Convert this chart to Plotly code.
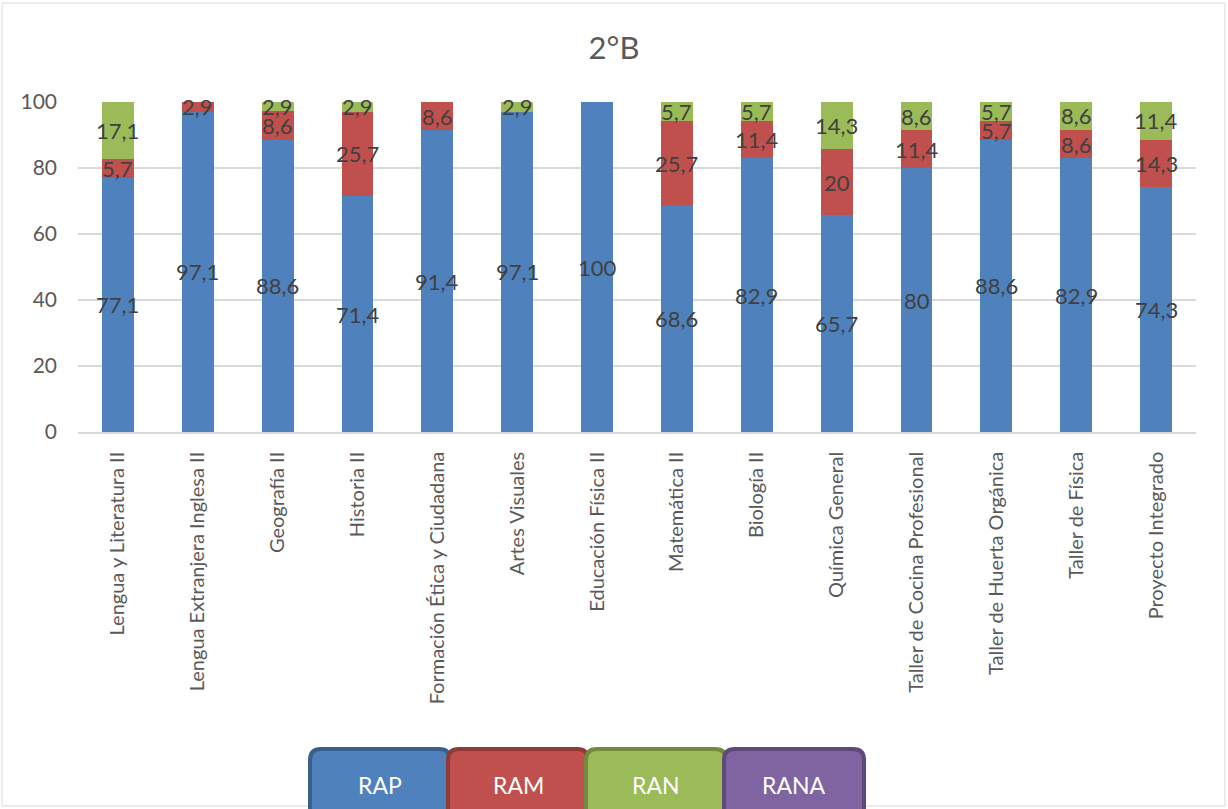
import plotly.graph_objects as go

categories = ["Lengua y Literatura II", "Lengua Extranjera Inglesa II", "Geografía II",
              "Historia II", "Formación Ética y Ciudadana", "Artes Visuales",
              "Educación Física II", "Matemática II", "Biología II", "Química General",
              "Taller de Cocina Profesional", "Taller de Huerta Orgánica",
              "Taller de Física", "Proyecto Integrado"]
rap = [77.1, 97.1, 88.6, 71.4, 91.4, 97.1, 100, 68.6, 82.9, 65.7, 80, 88.6, 82.9, 74.3]
ram = [5.7, 2.9, 8.6, 25.7, 8.6, 0, 0, 25.7, 11.4, 20, 11.4, 5.7, 8.6, 14.3]
ran = [17.1, 0, 2.9, 2.9, 0, 2.9, 0, 5.7, 5.7, 14.3, 8.6, 5.7, 8.6, 11.4]
rana = [0] * 14
series_names = ["RAP", "RAM", "RAN", "RANA"]
yticks = [0, 20, 40, 60, 80, 100]
title_text = "2°B"

colors = ["#4F81BD", "#C0504D", "#9BBB59", "#8064A2"]
borders = ["#3A5F8C", "#8E3A38", "#72893F", "#5E4A78"]
FONT = "Lato"

W, H = 1228, 809
L, R, T, B = 78, 32, 102, 377
pw, ph = W - L - R, H - T - B


def px2paper(x, y):
    return (x - L) / pw, (H - B - y) / ph


fig = go.Figure()
all_series = [rap, ram, ran, rana]
for name, vals, col in zip(series_names, all_series, colors):
    fig.add_trace(go.Bar(x=categories, y=vals, name=name, marker_color=col,
                         marker_line_width=0, showlegend=False))

# data labels
base = [0] * len(categories)
for vals in all_series:
    for i, v in enumerate(vals):
        if v:
            txt = (f"{v:.1f}".replace(".", ",") if v != int(v) else str(int(v)))
            fig.add_annotation(x=categories[i], y=base[i] + v / 2, text=txt,
                               showarrow=False,
                               font=dict(family=FONT, size=22, color="#404040"))
        base[i] += v

shapes = []
# outer chart border
x0, y0 = px2paper(2, 806)
x1, y1 = px2paper(1225, 3)
shapes.append(dict(type="rect", xref="paper", yref="paper", x0=x0, y0=y0, x1=x1, y1=y1,
                   line=dict(color="#D9D9D9", width=1), layer="below"))

# legend boxes (rounded)
box_x = [310, 448, 586, 724]
bw, top, bot, r = 140, 749, 830, 11


def P(x, y):
    px, py = px2paper(x, y)
    return f"{px:.5f},{py:.5f}"


for i, name in enumerate(series_names):
    xa, xb = box_x[i], box_x[i] + bw
    path = (f"M {P(xa + r, top)} L {P(xb - r, top)} Q {P(xb, top)} {P(xb, top + r)} "
            f"L {P(xb, bot - r)} Q {P(xb, bot)} {P(xb - r, bot)} L {P(xa + r, bot)} "
            f"Q {P(xa, bot)} {P(xa, bot - r)} L {P(xa, top + r)} Q {P(xa, top)} {P(xa + r, top)} Z")
    shapes.append(dict(type="path", xref="paper", yref="paper", path=path,
                       fillcolor=colors[i], line=dict(color=borders[i], width=4)))
    cx, cy = px2paper(xa + bw / 2, 785)
    fig.add_annotation(xref="paper", yref="paper", x=cx, y=cy, text=name, showarrow=False,
                       xanchor="center", yanchor="middle",
                       font=dict(family=FONT, size=23, color="white"))

fig.update_layout(
    width=W, height=H,
    margin=dict(l=L, r=R, t=T, b=B, autoexpand=False),
    barmode="stack", bargap=0.6,
    plot_bgcolor="white", paper_bgcolor="white",
    title=dict(text=title_text, x=0.5, xanchor="center", y=1 - 48 / H, yanchor="middle",
               font=dict(family=FONT, size=31, color="#595959")),
    shapes=shapes,
    font=dict(family=FONT, color="#595959"),
)
fig.update_yaxes(range=[0, 100], tickvals=yticks, showgrid=True, gridcolor="#D9D9D9",
                 gridwidth=1.5, zeroline=False, showline=False,
                 tickfont=dict(family=FONT, size=21, color="#595959"),
                 ticklabelstandoff=20)
fig.update_xaxes(tickangle=-90, showline=True, linecolor="#D9D9D9", linewidth=1.5,
                 tickfont=dict(family=FONT, size=20, color="#595959"),
                 ticklabelstandoff=10)

fig.write_html("out.html", config={"displayModeBar": False},
               post_script="document.body.style.margin='0';document.body.style.overflow='hidden';")
